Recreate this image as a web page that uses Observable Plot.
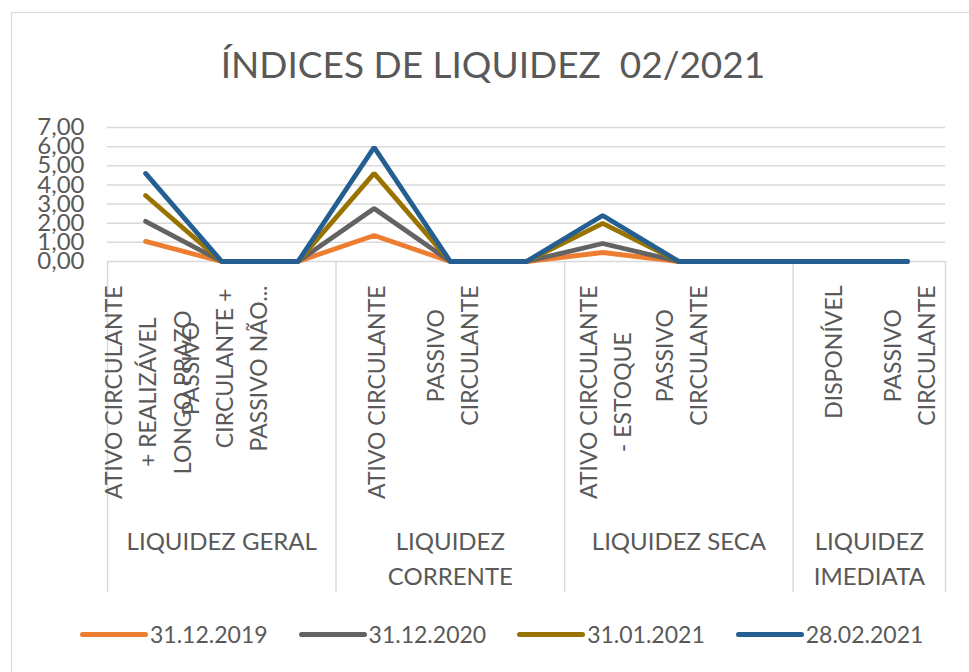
<!DOCTYPE html>
<html><head><meta charset="utf-8">
<script src="https://cdn.jsdelivr.net/npm/d3@7"></script>
<script src="https://cdn.jsdelivr.net/npm/@observablehq/plot@0.6"></script>
<style>
html,body{margin:0;padding:0;background:#fff;}
#wrap{position:relative;width:969px;height:672px;overflow:hidden;font-family:Lato,sans-serif;color:#595959;}
#frame{position:absolute;left:11px;top:12px;width:2000px;height:2000px;border:1px solid #d9d9d9;}
#title{position:absolute;left:0;width:986px;top:45px;text-align:center;font-size:37px;white-space:pre;line-height:1;}
#chart{position:absolute;left:0;top:100px;}
#legend{position:absolute;left:80px;top:623px;display:flex;gap:31px;align-items:center;font-size:23px;line-height:1;}
.item{display:flex;align-items:center;}
.sw{width:68px;height:5px;border-radius:3px;margin-right:2px;}
</style></head>
<body><div id="wrap"><div id="frame"></div><div id="title"></div><div id="chart"></div><div id="legend"></div></div>
<script>
const title = "ÍNDICES DE LIQUIDEZ  02/2021";
const groups = ["LIQUIDEZ GERAL", "LIQUIDEZ\nCORRENTE", "LIQUIDEZ SECA", "LIQUIDEZ\nIMEDIATA"];
const categories = [
  "ATIVO CIRCULANTE\n+ REALIZÁVEL\nLONGO PRAZO",
  "PASSIVO\nCIRCULANTE +\nPASSIVO NÃO...",
  "",
  "ATIVO CIRCULANTE",
  "PASSIVO\nCIRCULANTE",
  "",
  "ATIVO CIRCULANTE\n- ESTOQUE",
  "PASSIVO\nCIRCULANTE",
  "",
  "DISPONÍVEL",
  "PASSIVO\nCIRCULANTE"
];
const categoryGroup = [0,0,0,1,1,1,2,2,2,3,3];
const seriesNames = ["31.12.2019","31.12.2020","31.01.2021","28.02.2021"];
const seriesColors = ["#ED7D31","#636363","#997300","#255E91"];
// stacked line chart: each series' own value (Excel "stacked line")
const v2019   = [1.05,0,0,1.36,0,0,0.47,0,0,0,0];
const v2020   = [1.05,0,0,1.41,0,0,0.47,0,0,0,0];
const v202101 = [1.35,0,0,1.83,0,0,1.05,0,0,0,0];
const v202102 = [1.15,0,0,1.36,0,0,0.41,0,0,0,0];
const yTicks = [0,1,2,3,4,5,6,7];

const seriesValues = [v2019, v2020, v202101, v202102];
const rows = seriesValues.flatMap((vals, s) => vals.map((v, i) => ({i, value: v, series: seriesNames[s]})));

document.getElementById("title").textContent = title;

const labelFont = 23;
const ctx = document.createElement("canvas").getContext("2d");
ctx.font = `${labelFont}px Lato`;
const maxLen = s => Math.max(0, ...s.split("\n").map(l => ctx.measureText(l).width));

const boundaries = [-0.5, ...categoryGroup.flatMap((g, i) => i > 0 && g !== categoryGroup[i-1] ? [i - 0.5] : []), categories.length - 0.5];
const groupCenters = groups.map((g, k) => {
  const idx = categoryGroup.map((c, i) => c === k ? i : null).filter(i => i !== null);
  return {x: (idx[0] + idx[idx.length-1]) / 2, label: g};
});

const catMarks = categories.map((lab, i) => lab ? Plot.text([i], {
  x: d => d, text: () => lab, frameAnchor: "bottom", rotate: -90,
  textAnchor: "middle", lineAnchor: "middle", lineHeight: 1.48,
  dy: 24 + maxLen(lab) / 2, fontSize: labelFont, fill: "#595959"
}) : null).filter(Boolean);

const plot = Plot.plot({
  width: 969, height: 500,
  marginLeft: 107, marginRight: 24, marginTop: 27, marginBottom: 339,
  style: {fontFamily: "Lato, sans-serif", color: "#595959", fontSize: "24px", overflow: "visible", background: "transparent"},
  x: {type: "linear", domain: [-0.5, categories.length - 0.5], axis: null},
  y: {domain: [0, 7], axis: null},
  color: {domain: seriesNames, range: seriesColors},
  marks: [
    Plot.gridY(yTicks, {stroke: "#d9d9d9", strokeOpacity: 1, strokeWidth: 1.5}),
    Plot.axisY(yTicks, {tickSize: 0, tickPadding: 23, tickFormat: d => d.toFixed(2).replace(".", ","), fontSize: 24, fill: "#595959", label: null}),
    Plot.ruleX(boundaries, {x: d => d, stroke: "#d9d9d9", strokeWidth: 1.5, insetTop: 134, insetBottom: -331}),
    Plot.lineY(rows, Plot.stackY2({x: "i", y: "value", z: "series", stroke: "series", strokeWidth: 4.8, strokeLinejoin: "miter", strokeLinecap: "round"})),
    ...catMarks,
    Plot.text(groupCenters, {x: "x", text: "label", frameAnchor: "bottom", dy: 264, lineAnchor: "top", lineHeight: 1.46, fontSize: 24, fill: "#595959"})
  ]
});
document.getElementById("chart").appendChild(plot);

const legend = document.getElementById("legend");
seriesNames.forEach((n, k) => {
  const it = document.createElement("div"); it.className = "item";
  const sw = document.createElement("div"); sw.className = "sw"; sw.style.background = seriesColors[k];
  const tx = document.createElement("span"); tx.textContent = n;
  it.appendChild(sw); it.appendChild(tx); legend.appendChild(it);
});
</script>
</body></html>
